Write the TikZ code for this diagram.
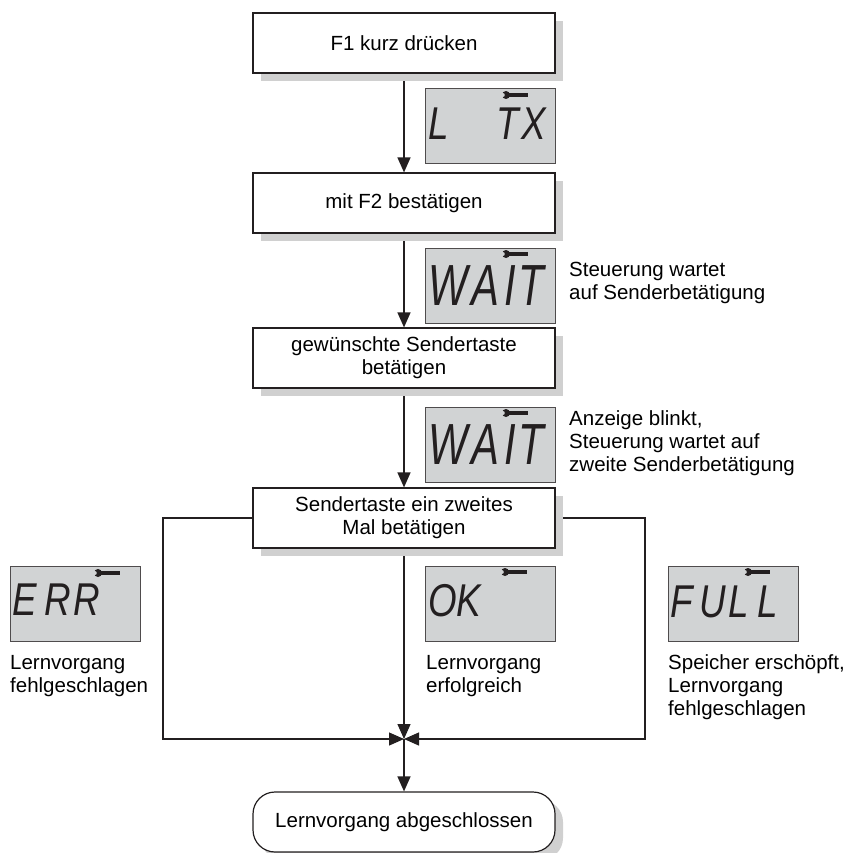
\documentclass[tikz,border=0pt]{standalone}
\usepackage{fontspec}
\setmainfont{Liberation Sans}
\usetikzlibrary{arrows.meta,shadows,backgrounds,positioning}
\definecolor{lcdgrau}{RGB}{209,211,212}
\definecolor{schatten}{RGB}{208,208,208}
\definecolor{linie}{RGB}{35,31,32}

% Schraubenschluessel-Symbol im Display
\newcommand{\wrench}[2]{%
  \draw[line width=3.2pt, linie] (#1,#2) -- ++(22,0);
  \fill[linie] (#1,#2) circle (4pt);
  \fill[lcdgrau] (#1-3.2,#2) circle (2pt);
}

\begin{document}
\begin{tikzpicture}[
  x=1pt, y=-1pt,
  box/.style={
    rectangle, draw=linie, line width=1.2pt, fill=white,
    minimum width=302pt, minimum height=60pt, inner sep=0pt,
    align=center, font=\fontsize{20.5}{23}\selectfont,
    drop shadow={shadow xshift=8pt, shadow yshift=-8pt, fill=schatten, opacity=1}
  },
  endbox/.style={box, rounded corners=22pt},
  display/.style={
    rectangle, draw=linie!80, line width=1pt, fill=lcdgrau,
    minimum width=130pt, minimum height=75pt, inner sep=0pt
  },
  segment/.style={inner sep=0pt, anchor=base west, text=linie,
    font=\fontsize{46}{46}\selectfont\itshape}, % Displayschrift
  nota/.style={anchor=west, align=left, inner sep=0pt,
    font=\fontsize{20.5}{23}\selectfont},
  pfeil/.style={draw=linie, line width=1.3pt,
    -{Triangle[length=15pt, width=13pt]}}
]
\useasboundingbox (0,0) rectangle (852,853);

% Ablauf
\node[box] (b1) at (404,43) {F1 kurz drücken};
\node[box] (b2) at (404,203) {mit F2 bestätigen};
\node[box] (b3) at (404,358) {gewünschte Sendertaste\\betätigen};
\node[box] (b4) at (404,518) {Sendertaste ein zweites\\Mal betätigen};
\node[endbox] (ende) at (404,822) {Lernvorgang abgeschlossen};

\coordinate (knoten) at (404,739);
\coordinate (links) at (163,739);
\coordinate (rechts) at (645,739);

% Displays
\node[display] (lcd1) at (490,126.5) {};
\node[segment] (lcd1txt) at (428,140) {\scalebox{0.8}[1]{L\hspace{60pt}T\hspace{3pt}X}};
\wrench{506}{95}

\node[display] (lcd2) at (490,286) {};
\node[segment, font=\fontsize{58}{58}\selectfont\itshape] (lcd2txt) at (428,305)
  {\scalebox{0.72}[1]{W\hspace{6pt}A\hspace{6pt}I\hspace{4pt}T}};
\wrench{506}{254}

\node[display] (lcd3) at (490,445) {};
\node[segment, font=\fontsize{58}{58}\selectfont\itshape] (lcd3txt) at (428,464)
  {\scalebox{0.72}[1]{W\hspace{6pt}A\hspace{6pt}I\hspace{4pt}T}};
\wrench{506}{413}

\node[display] (lcdE) at (75,604) {};
\node[segment] (lcdEtxt) at (12,615) {\scalebox{0.8}[1]{E\hspace{10pt}R\hspace{3pt}R}};
\wrench{98}{573}

\node[display] (lcdO) at (490,604) {};
\node[segment] (lcdOtxt) at (428,616) {\scalebox{0.8}[1]{OK}};
\wrench{505}{572}

\node[display] (lcdF) at (733,604) {};
\node[segment] (lcdFtxt) at (670,617) {\scalebox{0.8}[1]{F\hspace{9pt}U\hspace{3pt}L\hspace{10pt}L}};
\wrench{748}{572}

% Hinweise
\node[nota] (n2) at (569,283) {Steuerung wartet\\auf Senderbetätigung};
\node[nota] (n3) at (569,443) {Anzeige blinkt,\\Steuerung wartet auf\\zweite Senderbetätigung};
\node[nota] (nE) at (10,676) {Lernvorgang\\fehlgeschlagen};
\node[nota] (nO) at (426,676) {Lernvorgang\\erfolgreich};
\node[nota] (nF) at (668,687) {Speicher erschöpft,\\Lernvorgang\\fehlgeschlagen};

% Verbindungen
\begin{scope}[on background layer]
\draw[pfeil] (b1) -- (b2);
\draw[pfeil] (b2) -- (b3);
\draw[pfeil] (b3) -- (b4);
\draw[pfeil] (b4) -- (knoten);
\draw[pfeil] (b4.west) -| (links) -- (knoten);
\draw[pfeil] (b4.east) -| (rechts) -- (knoten);
\draw[pfeil] (knoten) -- (ende);
\end{scope}
\end{tikzpicture}
\end{document}
